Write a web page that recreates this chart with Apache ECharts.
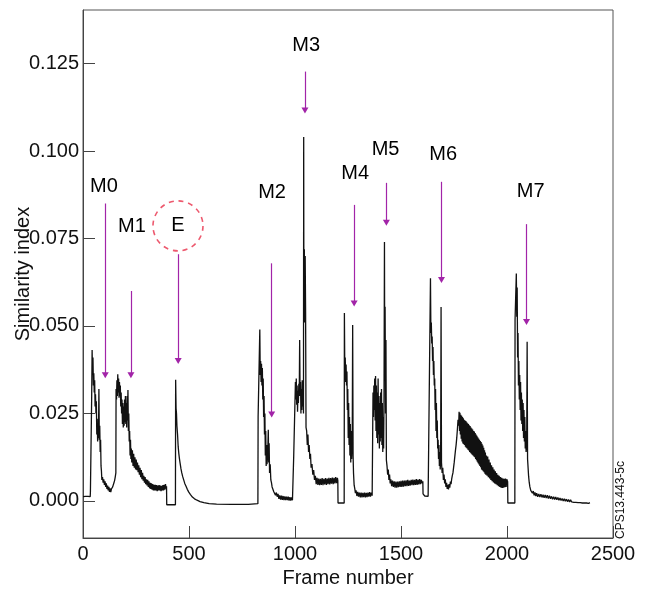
<!DOCTYPE html>
<html>
<head>
<meta charset="utf-8">
<script src="https://cdn.jsdelivr.net/npm/echarts@6/dist/echarts.min.js"></script>
<style>
  html, body { margin: 0; padding: 0; background: #fff; }
  #chart { width: 648px; height: 591px; }
</style>
</head>
<body>
<div id="chart"></div>
<script>
// trace as [frame, similarity index]
var segM0M1 = [[0,0.0012],[6,0.0010],[12,0.0013],[18,0.0011],[24,0.0013],[30,0.0011],[34,0.0012],[35,0.0026],[40,0.0030],
  [41,0.0300],[43,0.0431],[45,0.0360],[47,0.0410],[49,0.0330],[51,0.0365],[53,0.0310],[55,0.0345],[57,0.0270],[59,0.0305],
  [61,0.0250],[63,0.0285],[65,0.0190],[67,0.0235],[69,0.0170],[71,0.0215],[73,0.0180],[75,0.0320],[77,0.0175],[79,0.0215],
  [81,0.0140],[83,0.0175],[85,0.0100],[87,0.0085],[89,0.0060],[92,0.0068],[95,0.0052],[98,0.0062],[101,0.0046],[104,0.0056],
  [107,0.0040],[110,0.0050],[113,0.0034],[116,0.0044],[119,0.0030],[122,0.0040],[125,0.0026],[128,0.0036],[131,0.0025],
  [134,0.0034],[137,0.0030],[140,0.0040],[143,0.0042],[146,0.0052],[149,0.0058],[152,0.0068],[155,0.0080],
  [156,0.0320],[158,0.0290],[160,0.0345],[162,0.0300],[164,0.0362],[166,0.0310],[168,0.0350],[170,0.0295],[172,0.0340],
  [174,0.0300],[176,0.0330],[178,0.0270],[180,0.0310],[182,0.0250],[184,0.0290],[186,0.0220],[188,0.0280],[190,0.0210],
  [192,0.0270],[194,0.0215],[196,0.0290],[198,0.0225],[200,0.0300],[202,0.0220],[204,0.0280],[206,0.0210],[208,0.0300],
  [210,0.0230],[212,0.0317],[214,0.0200],[216,0.0250],[218,0.0170],[220,0.0200],[222,0.0130],[224,0.0175],[226,0.0120],
  [228,0.0150],[230,0.0110],[233,0.0145],[236,0.0100],[239,0.0135],[242,0.0095],[245,0.0125],[248,0.0090],[251,0.0118],
  [254,0.0088],[257,0.0110],[260,0.0082],[263,0.0102],[266,0.0075],[269,0.0095],[272,0.0068],[275,0.0088],[278,0.0062],
  [281,0.0080],[284,0.0058],[287,0.0072],[290,0.0052],[293,0.0068],[296,0.0048],[299,0.0062],[302,0.0044],[305,0.0060],
  [308,0.0040],[311,0.0056],[314,0.0036],[317,0.0052],[320,0.0034],[323,0.0050],[326,0.0032],[329,0.0048],[332,0.0030],
  [335,0.0046],[338,0.0030],[341,0.0046],[344,0.0030],[347,0.0045],[350,0.0028],[353,0.0044],[356,0.0030],[359,0.0045],
  [362,0.0030],[365,0.0044],[368,0.0028],[371,0.0043],[374,0.0030],[377,0.0045],[380,0.0030],[383,0.0046],[386,0.0032],
  [389,0.0048],[392,0.0035],[394,0.0042]];

var segE = [[395,-0.0011],[436,-0.0011],[437,0.0346],[439,0.0265],[441,0.0250],[443,0.0215],[446,0.0190],[449,0.0155],
  [452,0.0135],[455,0.0120],[458,0.0108],[462,0.0092],[466,0.0080],[470,0.0070],[475,0.0060],[480,0.0050],[486,0.0042],
  [492,0.0033],[499,0.0025],[507,0.0018],[516,0.0011],[526,0.0006],[538,0.0002],[552,-0.0002],[570,-0.0005],[595,-0.0008],
  [630,-0.0009],[700,-0.0010],[780,-0.0010],[825,-0.0008]];

var segM2 = [[826,0.0240],[833,0.0240],[834,0.0490],[836,0.0360],[838,0.0400],[840,0.0340],[842,0.0392],[844,0.0330],
  [846,0.0380],[848,0.0290],[850,0.0350],[852,0.0240],[854,0.0300],[856,0.0190],[858,0.0250],[860,0.0130],[862,0.0200],
  [864,0.0100],[866,0.0160],[868,0.0105],[871,0.0130],[874,0.0203],[876,0.0110],[878,0.0165],[880,0.0080],[883,0.0105],
  [886,0.0060],[889,0.0052],[892,0.0040],[896,0.0036],[900,0.0026],[904,0.0030],[908,0.0016],[912,0.0024],[916,0.0012],
  [920,0.0020],[924,0.0006],[928,0.0016],[932,0.0004],[936,0.0015],[940,0.0003],[944,0.0014],[948,0.0002],[952,0.0013],
  [956,0.0002],[960,0.0012],[964,0.0002],[968,0.0012],[972,0.0001],[976,0.0011],[980,0.0001],[984,0.0010],[988,0.0002],
  [993,0.0006],[994,0.0130],[1001,0.0130]];

var segM3 = [[1002,0.0340],[1004,0.0290],[1006,0.0350],[1008,0.0275],[1010,0.0330],[1012,0.0255],[1014,0.0315],
  [1016,0.0280],[1018,0.0335],[1020,0.0300],[1022,0.0460],[1024,0.0300],[1026,0.0340],[1028,0.0250],[1030,0.0320],
  [1032,0.0260],[1034,0.0345],[1036,0.0270],[1038,0.0310],[1040,0.0250],[1041,0.1040],[1042,0.0520],[1044,0.0719],
  [1046,0.0510],[1048,0.0700],[1050,0.0540],[1052,0.0210],[1055,0.0200],[1058,0.0160],[1061,0.0190],[1064,0.0140],
  [1067,0.0160],[1070,0.0120],[1073,0.0135],[1076,0.0095],[1080,0.0105],[1084,0.0075],[1088,0.0088],[1092,0.0060],
  [1096,0.0072],[1100,0.0048],[1104,0.0066],[1108,0.0046],[1112,0.0064],[1116,0.0045],[1120,0.0063],[1124,0.0046],
  [1128,0.0065],[1132,0.0045],[1136,0.0063],[1140,0.0047],[1144,0.0065],[1148,0.0046],[1152,0.0064],[1156,0.0048],
  [1160,0.0066],[1164,0.0047],[1168,0.0065],[1172,0.0049],[1176,0.0067],[1180,0.0048],[1184,0.0066],[1188,0.0050],
  [1192,0.0068],[1196,0.0051],[1200,0.0066],[1202,0.0058],[1203,-0.0006],[1232,-0.0006]];

var segM4 = [[1233,0.0537],[1235,0.0360],[1237,0.0410],[1239,0.0340],[1241,0.0390],[1243,0.0330],[1245,0.0370],
  [1247,0.0260],[1249,0.0320],[1251,0.0180],[1253,0.0280],[1255,0.0160],[1257,0.0240],[1259,0.0130],[1261,0.0220],
  [1263,0.0110],[1265,0.0200],[1267,0.0120],[1270,0.0180],[1272,0.0503],[1274,0.0130],[1276,0.0080],[1279,0.0045],
  [1282,0.0035],[1285,0.0022],[1288,0.0030],[1292,0.0014],[1296,0.0026],[1300,0.0012],[1304,0.0024],[1308,0.0010],
  [1312,0.0024],[1316,0.0010],[1320,0.0023],[1324,0.0011],[1328,0.0024],[1332,0.0010],[1336,0.0023],[1340,0.0011],
  [1344,0.0024],[1348,0.0012],[1352,0.0025],[1356,0.0012],[1360,0.0024],[1364,0.0015],[1367,0.0020]];

var segM5 = [[1368,0.0310],[1370,0.0240],[1372,0.0330],[1374,0.0260],[1376,0.0350],[1378,0.0230],[1380,0.0357],
  [1382,0.0200],[1384,0.0330],[1386,0.0180],[1388,0.0310],[1390,0.0165],[1392,0.0350],[1394,0.0190],[1396,0.0300],
  [1398,0.0150],[1400,0.0280],[1402,0.0170],[1404,0.0310],[1406,0.0180],[1408,0.0320],[1410,0.0160],[1412,0.0280],
  [1414,0.0140],[1416,0.0240],[1418,0.0150],[1420,0.0300],[1422,0.0740],[1423,0.0450],[1425,0.0555],[1427,0.0250],
  [1429,0.0460],[1431,0.0117],[1434,0.0100],[1437,0.0075],[1440,0.0090],[1443,0.0060],[1446,0.0075],[1449,0.0050],
  [1452,0.0062],[1456,0.0042],[1460,0.0058],[1464,0.0040],[1468,0.0056],[1472,0.0038],[1476,0.0055],[1480,0.0038],
  [1484,0.0055],[1488,0.0039],[1492,0.0056],[1496,0.0040],[1500,0.0057],[1504,0.0040],[1508,0.0058],[1512,0.0041],
  [1516,0.0058],[1520,0.0042],[1524,0.0059],[1528,0.0042],[1532,0.0060],[1536,0.0043],[1540,0.0058],[1544,0.0044],
  [1548,0.0060],[1552,0.0045],[1556,0.0061],[1560,0.0045],[1564,0.0060],[1568,0.0046],[1572,0.0062],[1576,0.0046],
  [1580,0.0061],[1584,0.0047],[1588,0.0062],[1592,0.0048],[1596,0.0060],[1600,0.0050],[1603,0.0056],[1604,0.0020],
  [1612,0.0014],[1620,0.0019],[1628,0.0013],[1636,0.0018]];

var segM6 = [[1638,0.0017],[1639,0.0636],[1641,0.0480],[1643,0.0510],[1645,0.0450],[1647,0.0470],[1649,0.0400],
  [1651,0.0440],[1653,0.0360],[1655,0.0400],[1657,0.0330],[1659,0.0350],[1661,0.0260],[1663,0.0320],[1665,0.0200],
  [1667,0.0280],[1669,0.0180],[1671,0.0230],[1673,0.0150],[1675,0.0175],[1677,0.0120],[1679,0.0160],[1681,0.0100],
  [1683,0.0140],[1685,0.0090],[1687,0.0120],[1689,0.0554],[1691,0.0110],[1694,0.0080],[1697,0.0095],[1700,0.0060],
  [1703,0.0075],[1706,0.0050],[1709,0.0062],[1712,0.0040],[1715,0.0052],[1718,0.0034],[1721,0.0046],[1724,0.0033],
  [1727,0.0048],[1730,0.0038],[1733,0.0055],[1736,0.0048]];

var segHump = [[1739,0.0062],[1742,0.0072],[1745,0.0080],[1748,0.0095],[1751,0.0110],[1754,0.0128],[1757,0.0145],
  [1760,0.0160],[1763,0.0180],[1766,0.0205],[1769,0.0232],[1772,0.0215],[1774,0.0255],[1776,0.0200],[1778,0.0252],
  [1780,0.0190],[1782,0.0246],[1784,0.0178],[1786,0.0243],[1788,0.0170],[1790,0.0240],[1792,0.0164],[1794,0.0236],
  [1796,0.0162],[1798,0.0232],[1800,0.0160],[1802,0.0230],[1804,0.0155],[1806,0.0228],[1808,0.0152],[1810,0.0225],
  [1812,0.0150],[1814,0.0222],[1816,0.0146],[1818,0.0220],[1820,0.0144],[1822,0.0216],[1824,0.0140],[1826,0.0214],
  [1828,0.0138],[1830,0.0210],[1832,0.0135],[1834,0.0207],[1836,0.0132],[1838,0.0204],[1840,0.0130],[1842,0.0200],
  [1844,0.0127],[1846,0.0198],[1848,0.0125],[1850,0.0194],[1852,0.0120],[1854,0.0190],[1856,0.0116],[1858,0.0186],
  [1860,0.0112],[1862,0.0182],[1864,0.0108],[1866,0.0178],[1868,0.0104],[1870,0.0175],[1872,0.0100],[1874,0.0171],
  [1876,0.0096],[1878,0.0168],[1880,0.0090],[1882,0.0163],[1884,0.0088],[1886,0.0158],[1888,0.0085],[1890,0.0152],
  [1892,0.0082],[1894,0.0145],[1896,0.0078],[1898,0.0138],[1900,0.0075],[1903,0.0130],[1906,0.0072],[1909,0.0127],
  [1912,0.0068],[1915,0.0118],[1918,0.0064],[1921,0.0110],[1924,0.0060],[1927,0.0102],[1930,0.0056],[1933,0.0096],
  [1936,0.0053],[1939,0.0090],[1942,0.0050],[1945,0.0085],[1948,0.0048],[1951,0.0080],[1954,0.0045],[1957,0.0075],
  [1960,0.0042],[1963,0.0072],[1966,0.0040],[1969,0.0068],[1972,0.0038],[1975,0.0066],[1978,0.0037],[1981,0.0064],
  [1984,0.0038],[1987,0.0063],[1990,0.0039],[1993,0.0064],[1996,0.0040],[1999,0.0062],[2003,0.0055],[2004,-0.0006],
  [2037,-0.0006]];

var segM7 = [[2038,0.0517],[2043,0.0517],[2044,0.0650],[2046,0.0526],[2048,0.0610],[2050,0.0410],[2052,0.0480],
  [2054,0.0330],[2056,0.0400],[2058,0.0290],[2060,0.0360],[2062,0.0260],[2064,0.0340],[2066,0.0230],[2068,0.0310],
  [2070,0.0220],[2072,0.0290],[2074,0.0200],[2076,0.0280],[2078,0.0180],[2080,0.0260],[2082,0.0170],[2084,0.0240],
  [2086,0.0150],[2088,0.0200],[2090,0.0140],[2093,0.0170],[2095,0.0455],[2097,0.0120],[2099,0.0100],[2102,0.0070],
  [2105,0.0052],[2108,0.0040],[2112,0.0030],[2116,0.0034],[2120,0.0022],[2124,0.0028],[2128,0.0016],[2132,0.0024],
  [2136,0.0014],[2140,0.0022],[2145,0.0012],[2150,0.0020],[2155,0.0011],[2160,0.0019],[2165,0.0010],[2170,0.0018],
  [2175,0.0009],[2180,0.0017],[2185,0.0008],[2190,0.0016],[2195,0.0007],[2200,0.0015],[2205,0.0006],[2210,0.0013],
  [2215,0.0005],[2220,0.0012],[2225,0.0004],[2230,0.0011],[2235,0.0003],[2240,0.0010],[2245,0.0002],[2250,0.0008],
  [2255,0.0001],[2260,0.0007],[2265,0.0000],[2270,0.0006],[2275,-0.0001],[2280,0.0005],[2285,-0.0002],[2290,0.0004],
  [2295,-0.0003],[2300,0.0003],[2305,-0.0003],[2310,0.0002],[2315,-0.0004],[2320,0.0001],[2325,-0.0004],[2330,0.0000],
  [2335,-0.0005],[2340,0.0000],[2345,-0.0005],[2350,-0.0001],[2355,-0.0006],[2360,-0.0002],[2365,-0.0006],[2370,-0.0003],
  [2375,-0.0006],[2380,-0.0004],[2385,-0.0007],[2391,-0.0005]];

// marker labels and where they sit
var markNames = ['M0', 'M1', 'E', 'M2', 'M3', 'M4', 'M5', 'M6', 'M7'];
var markLabelX = [99, 231, 448, 892, 1053, 1284, 1427, 1699, 2112];
var markLabelY = [0.0898, 0.0784, 0.0786, 0.0881, 0.1301, 0.0935, 0.1003, 0.0989, 0.0883];
// arrows: frame, top value, arrow head value
var arrowX = [105, 226, 449, 890, 1047, 1279, 1431, 1691, 2092];
var arrowTop = [0.0850, 0.0600, 0.0705, 0.0679, 0.1227, 0.0846, 0.0909, 0.0912, 0.0791];
var arrowEnd = [0.0359, 0.0359, 0.0400, 0.0247, 0.1116, 0.0564, 0.0795, 0.0631, 0.0511];

var yTicks = [0, 0.025, 0.05, 0.075, 0.1, 0.125];

var trace = segM0M1.concat(segE, segM2, segM3, segM4, segM5, segM6, segHump, segM7);

var FONT = 'Liberation Sans, Arial, Helvetica, sans-serif';

var labelData = [];
for (var i = 0; i < markNames.length; i++) {
  labelData.push({ name: markNames[i], value: [markLabelX[i], markLabelY[i]] });
}
var arrowData = [];
for (var j = 0; j < arrowX.length; j++) {
  arrowData.push([{ coord: [arrowX[j], arrowTop[j]] }, { coord: [arrowX[j], arrowEnd[j]] }]);
}
var eIndex = markNames.indexOf('E');

var chart = echarts.init(document.getElementById('chart'));

var option = {
  animation: false,
  textStyle: { fontFamily: FONT },
  grid: {
    left: 83, right: 35, top: 10, bottom: 53, outerBoundsMode: 'none', containLabel: false,
    show: true, borderColor: '#555', borderWidth: 1
  },
  xAxis: {
    type: 'value', min: 0, max: 2500, interval: 500,
    name: 'Frame number', nameLocation: 'middle', nameGap: 30, nameMoveOverlap: false,
    nameTextStyle: { fontSize: 20, color: '#111', fontFamily: FONT },
    axisLine: { onZero: false, lineStyle: { color: '#444', width: 1 } },
    axisTick: { inside: true, length: 12, lineStyle: { color: '#444' } },
    axisLabel: {
      fontSize: 20, color: '#111', margin: 6, fontFamily: FONT,
      formatter: function (v) { return String(v); }
    },
    splitLine: { show: false }
  },
  yAxis: {
    type: 'value', min: -0.0106, max: 0.1403,
    name: 'Similarity index', nameLocation: 'middle', nameGap: 50, nameMoveOverlap: false,
    nameTextStyle: { fontSize: 20, color: '#111', fontFamily: FONT },
    axisLine: { show: true, onZero: false, lineStyle: { color: '#444', width: 1 } },
    axisTick: { inside: true, length: 12, customValues: yTicks, lineStyle: { color: '#444' } },
    axisLabel: {
      fontSize: 20, color: '#111', margin: 4, fontFamily: FONT, customValues: yTicks,
      formatter: function (v) { return v.toFixed(3); }
    },
    splitLine: { show: false }
  },
  graphic: [{
    type: 'text', x: 621, y: 500, rotation: Math.PI / 2,
    style: { text: 'CPS13.443-5c', fontSize: 12, fill: '#111', fontFamily: FONT, textAlign: 'center', textVerticalAlign: 'middle' }
  }],
  series: [
    {
      type: 'line', data: trace, showSymbol: false, symbol: 'none', sampling: 'none',
      lineStyle: { color: '#111', width: 1.3 }, silent: true, z: 2
    },
    {
      type: 'scatter', data: labelData, symbolSize: 1, silent: true,
      itemStyle: { color: 'rgba(255,255,255,0)' },
      label: {
        show: true, position: 'inside', fontSize: 20, color: '#000', fontFamily: FONT,
        textBorderWidth: 0, opacity: 1,
        formatter: function (p) { return p.name; }
      },
      markLine: {
        silent: true, symbol: ['none', 'triangle'], symbolSize: [7, 6],
        label: { show: false },
        lineStyle: { color: '#a224a8', width: 1.2, type: 'solid' },
        emphasis: { disabled: true },
        data: arrowData
      },
      z: 3
    },
    {
      type: 'scatter', silent: true, symbol: 'circle', symbolSize: 50,
      data: [[markLabelX[eIndex], markLabelY[eIndex]]],
      itemStyle: { color: 'rgba(0,0,0,0)', borderColor: '#e8304a', borderWidth: 1.6, borderType: [5, 4.8] },
      z: 3
    }
  ]
};

chart.setOption(option);
</script>
</body>
</html>
